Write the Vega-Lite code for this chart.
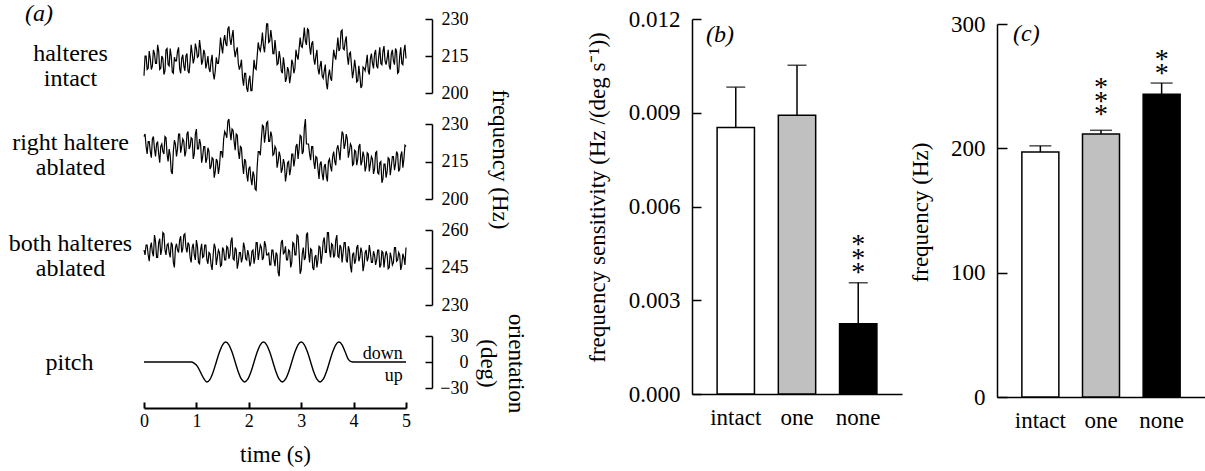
{
  "$schema": "https://vega.github.io/schema/vega-lite/v6.json",
  "autosize": {"type": "pad"},
  "padding": {"left": 8, "top": 2, "right": 0, "bottom": 2},
  "background": "white",
  "config": {
    "font": "Liberation Serif",
    "view": {"stroke": null},
    "axis": {"domainColor": "black", "tickColor": "black", "labelColor": "black", "titleColor": "black", "titleFontWeight": "normal", "grid": false},
    "title": {"color": "black"},
    "text": {"color": "black"}
  },
  "datasets": {
    "traces": [
      {"t":0.00,"intact":207,"right":225,"both":252},{"t":0.02,"intact":215,"right":226,"both":250},
      {"t":0.04,"intact":215,"right":221,"both":254},{"t":0.06,"intact":209.5,"right":218,"both":254},
      {"t":0.08,"intact":210,"right":223,"both":250},{"t":0.10,"intact":217,"right":223,"both":247.5},
      {"t":0.12,"intact":214,"right":219,"both":253},{"t":0.14,"intact":209.5,"right":216.5,"both":255},
      {"t":0.16,"intact":211,"right":224,"both":251},{"t":0.18,"intact":217.5,"right":225,"both":249.5},
      {"t":0.20,"intact":216,"right":220,"both":258},{"t":0.22,"intact":212,"right":217,"both":255.5},
      {"t":0.24,"intact":212,"right":222,"both":249},{"t":0.26,"intact":219.5,"right":223,"both":249},
      {"t":0.28,"intact":217,"right":218,"both":255},{"t":0.30,"intact":209.5,"right":214.5,"both":256.5},
      {"t":0.32,"intact":210,"right":221,"both":250},{"t":0.34,"intact":215,"right":222,"both":252.5},
      {"t":0.36,"intact":214,"right":219,"both":259},{"t":0.38,"intact":207.5,"right":218,"both":258.5},
      {"t":0.40,"intact":209,"right":225,"both":252},{"t":0.42,"intact":217.5,"right":224.5,"both":250},
      {"t":0.44,"intact":218,"right":218,"both":254},{"t":0.46,"intact":211.5,"right":215,"both":254.5},
      {"t":0.48,"intact":211,"right":220,"both":251},{"t":0.50,"intact":218,"right":217.5,"both":249},
      {"t":0.52,"intact":215,"right":211,"both":255},{"t":0.54,"intact":208.5,"right":210,"both":254},
      {"t":0.56,"intact":208,"right":219,"both":247},{"t":0.58,"intact":214.5,"right":223.5,"both":245},
      {"t":0.60,"intact":213,"right":222,"both":253},{"t":0.62,"intact":213,"right":217,"both":254.5},
      {"t":0.64,"intact":217,"right":220,"both":252},{"t":0.66,"intact":218.5,"right":226,"both":251},
      {"t":0.68,"intact":210,"right":226,"both":256},{"t":0.70,"intact":208,"right":218.5,"both":257.5},
      {"t":0.72,"intact":214,"right":221,"both":251},{"t":0.74,"intact":215.5,"right":224,"both":252.5},
      {"t":0.76,"intact":211,"right":223,"both":258},{"t":0.78,"intact":209,"right":217,"both":258.5},
      {"t":0.80,"intact":215,"right":219,"both":253},{"t":0.82,"intact":216,"right":226,"both":251},
      {"t":0.84,"intact":209,"right":227,"both":255},{"t":0.86,"intact":208,"right":220,"both":254},
      {"t":0.88,"intact":213,"right":221,"both":249},{"t":0.90,"intact":219.5,"right":224.5,"both":247},
      {"t":0.92,"intact":216,"right":224,"both":253},{"t":0.94,"intact":212,"right":216,"both":254.5},
      {"t":0.96,"intact":214,"right":218,"both":250},{"t":0.98,"intact":220,"right":226,"both":248},
      {"t":1.00,"intact":218,"right":228,"both":256},{"t":1.02,"intact":214.5,"right":220,"both":253.5},
      {"t":1.04,"intact":215,"right":220,"both":247},{"t":1.06,"intact":221.5,"right":224,"both":246.5},
      {"t":1.08,"intact":218,"right":222,"both":252},{"t":1.10,"intact":211.5,"right":214.5,"both":254.5},
      {"t":1.12,"intact":213,"right":217,"both":249},{"t":1.14,"intact":217.5,"right":221,"both":249.5},
      {"t":1.16,"intact":216,"right":221,"both":254},{"t":1.18,"intact":210,"right":214.5,"both":254},
      {"t":1.20,"intact":212,"right":216,"both":248},{"t":1.22,"intact":215,"right":220.5,"both":246.5},
      {"t":1.24,"intact":210,"right":219,"both":251},{"t":1.26,"intact":208.5,"right":212,"both":250.5},
      {"t":1.28,"intact":213,"right":213,"both":246},{"t":1.30,"intact":215.5,"right":216.5,"both":244},
      {"t":1.32,"intact":208,"right":216,"both":250},{"t":1.34,"intact":205.5,"right":208.5,"both":254.5},
      {"t":1.36,"intact":209,"right":211,"both":253},{"t":1.38,"intact":214.5,"right":216,"both":246},
      {"t":1.40,"intact":212,"right":215,"both":249},{"t":1.42,"intact":212,"right":210,"both":252},
      {"t":1.44,"intact":216,"right":213,"both":251},{"t":1.46,"intact":222.5,"right":219,"both":245.5},
      {"t":1.48,"intact":219,"right":219,"both":246},{"t":1.50,"intact":216,"right":216.5,"both":253},
      {"t":1.52,"intact":221,"right":224,"both":252},{"t":1.54,"intact":223.5,"right":227,"both":248},
      {"t":1.56,"intact":220,"right":226,"both":248},{"t":1.58,"intact":219,"right":224.5,"both":253.5},
      {"t":1.60,"intact":226,"right":231,"both":253},{"t":1.62,"intact":227,"right":232,"both":248.5},
      {"t":1.64,"intact":222,"right":227,"both":250},{"t":1.66,"intact":219.5,"right":223.5,"both":255.5},
      {"t":1.68,"intact":223,"right":228,"both":257},{"t":1.70,"intact":225.5,"right":227.5,"both":248.5},
      {"t":1.72,"intact":218,"right":223,"both":248},{"t":1.74,"intact":214.5,"right":219.5,"both":253},
      {"t":1.76,"intact":217,"right":226,"both":252},{"t":1.78,"intact":218.5,"right":225.5,"both":244.5},
      {"t":1.80,"intact":212,"right":219,"both":247},{"t":1.82,"intact":209.5,"right":216,"both":251},
      {"t":1.84,"intact":211,"right":221,"both":251},{"t":1.86,"intact":213.5,"right":220.5,"both":247},
      {"t":1.88,"intact":206,"right":214,"both":249},{"t":1.90,"intact":203,"right":210,"both":255},
      {"t":1.92,"intact":208,"right":216,"both":253},{"t":1.94,"intact":208,"right":215,"both":248.5},
      {"t":1.96,"intact":202,"right":210,"both":248},{"t":1.98,"intact":200.5,"right":207,"both":252},
      {"t":2.00,"intact":205,"right":212,"both":250},{"t":2.02,"intact":207,"right":213,"both":245.5},
      {"t":2.04,"intact":201,"right":208,"both":247},{"t":2.06,"intact":201,"right":205.5,"both":251.5},
      {"t":2.08,"intact":207,"right":211,"both":252},{"t":2.10,"intact":213.5,"right":209.5,"both":246.5},
      {"t":2.12,"intact":210,"right":204,"both":249},{"t":2.14,"intact":209.5,"right":203.5,"both":255},
      {"t":2.16,"intact":215,"right":213,"both":255},{"t":2.18,"intact":220.5,"right":219,"both":248},
      {"t":2.20,"intact":218,"right":219,"both":251},{"t":2.22,"intact":217,"right":217.5,"both":254},
      {"t":2.24,"intact":220,"right":224,"both":253},{"t":2.26,"intact":224.5,"right":229.5,"both":248},
      {"t":2.28,"intact":219,"right":229,"both":249},{"t":2.30,"intact":216.5,"right":222.5,"both":255.5},
      {"t":2.32,"intact":222,"right":226,"both":254},{"t":2.34,"intact":228,"right":230.5,"both":250},
      {"t":2.36,"intact":228,"right":231,"both":250},{"t":2.38,"intact":220.5,"right":223,"both":251},
      {"t":2.40,"intact":221,"right":223,"both":246},{"t":2.42,"intact":225.5,"right":227,"both":246},
      {"t":2.44,"intact":222,"right":225,"both":252},{"t":2.46,"intact":216,"right":217.5,"both":252},
      {"t":2.48,"intact":216,"right":218,"both":248},{"t":2.50,"intact":221.5,"right":221,"both":245.5},
      {"t":2.52,"intact":217,"right":220,"both":251},{"t":2.54,"intact":211.5,"right":212.5,"both":250},
      {"t":2.56,"intact":212,"right":215,"both":243},{"t":2.58,"intact":217,"right":219,"both":241.5},
      {"t":2.60,"intact":214,"right":217,"both":250},{"t":2.62,"intact":209,"right":210.5,"both":255},
      {"t":2.64,"intact":208,"right":212,"both":256},{"t":2.66,"intact":214.5,"right":216,"both":250.5},
      {"t":2.68,"intact":211,"right":214,"both":251},{"t":2.70,"intact":204.5,"right":207,"both":253.5},
      {"t":2.72,"intact":206,"right":210,"both":248},{"t":2.74,"intact":210.5,"right":214.5,"both":248},
      {"t":2.76,"intact":209,"right":215,"both":252},{"t":2.78,"intact":204,"right":209.5,"both":251.5},
      {"t":2.80,"intact":207,"right":212,"both":245},{"t":2.82,"intact":213.5,"right":218,"both":247},
      {"t":2.84,"intact":212,"right":218,"both":255},{"t":2.86,"intact":208,"right":213,"both":254.5},
      {"t":2.88,"intact":210,"right":216,"both":250},{"t":2.90,"intact":217.5,"right":221,"both":250},
      {"t":2.92,"intact":215,"right":222,"both":258},{"t":2.94,"intact":213.5,"right":216,"both":257.5},
      {"t":2.96,"intact":218,"right":220,"both":251},{"t":2.98,"intact":222.5,"right":225.5,"both":242.5},
      {"t":3.00,"intact":219,"right":225,"both":244},{"t":3.02,"intact":218.5,"right":218,"both":250.5},
      {"t":3.04,"intact":222,"right":219,"both":253},{"t":3.06,"intact":226.5,"right":228.5,"both":248},
      {"t":3.08,"intact":221,"right":232,"both":249},{"t":3.10,"intact":219.5,"right":222,"both":258},
      {"t":3.12,"intact":226,"right":222,"both":259},{"t":3.14,"intact":225.5,"right":222,"both":251},
      {"t":3.16,"intact":219,"right":218,"both":247},{"t":3.18,"intact":215.5,"right":215.5,"both":252.5},
      {"t":3.20,"intact":220,"right":221,"both":252},{"t":3.22,"intact":221,"right":221,"both":245},
      {"t":3.24,"intact":214,"right":215,"both":244},{"t":3.26,"intact":211.5,"right":212,"both":249},
      {"t":3.28,"intact":215,"right":217,"both":250},{"t":3.30,"intact":217.5,"right":216.5,"both":245},
      {"t":3.32,"intact":210,"right":212,"both":248},{"t":3.34,"intact":207.5,"right":208,"both":253.5},
      {"t":3.36,"intact":211,"right":214,"both":253},{"t":3.38,"intact":213,"right":215,"both":246.5},
      {"t":3.40,"intact":207,"right":210,"both":250},{"t":3.42,"intact":206,"right":207.5,"both":255.5},
      {"t":3.44,"intact":209,"right":213,"both":257},{"t":3.46,"intact":211.5,"right":214,"both":251},
      {"t":3.48,"intact":204,"right":209,"both":251},{"t":3.50,"intact":201.5,"right":207,"both":259},
      {"t":3.52,"intact":207,"right":215,"both":259},{"t":3.54,"intact":209.5,"right":216,"both":252},
      {"t":3.56,"intact":206,"right":213,"both":249},{"t":3.58,"intact":205,"right":211,"both":254.5},
      {"t":3.60,"intact":212,"right":217,"both":254},{"t":3.62,"intact":217.5,"right":219,"both":249},
      {"t":3.64,"intact":215,"right":215,"both":250},{"t":3.66,"intact":213.5,"right":213.5,"both":256},
      {"t":3.68,"intact":218,"right":220,"both":258},{"t":3.70,"intact":222.5,"right":221.5,"both":249.5},
      {"t":3.72,"intact":217,"right":219,"both":249},{"t":3.74,"intact":218,"right":215.5,"both":254},
      {"t":3.76,"intact":225,"right":222,"both":253},{"t":3.78,"intact":225.5,"right":227,"both":247},
      {"t":3.80,"intact":218,"right":226,"both":251},{"t":3.82,"intact":217.5,"right":220,"both":255},
      {"t":3.84,"intact":221,"right":222,"both":255},{"t":3.86,"intact":223,"right":226,"both":248},
      {"t":3.88,"intact":215,"right":224,"both":247},{"t":3.90,"intact":211.5,"right":216.5,"both":253.5},
      {"t":3.92,"intact":216,"right":219,"both":252},{"t":3.94,"intact":216.5,"right":222,"both":245.5},
      {"t":3.96,"intact":211,"right":221,"both":243},{"t":3.98,"intact":206,"right":213.5,"both":250},
      {"t":4.00,"intact":209,"right":214,"both":251},{"t":4.02,"intact":213.5,"right":219.5,"both":246.5},
      {"t":4.04,"intact":210,"right":219,"both":248},{"t":4.06,"intact":204.5,"right":213.5,"both":253},
      {"t":4.08,"intact":205,"right":216,"both":254},{"t":4.10,"intact":211,"right":221,"both":247.5},
      {"t":4.12,"intact":207,"right":222,"both":249},{"t":4.14,"intact":202,"right":213.5,"both":253},
      {"t":4.16,"intact":203,"right":215,"both":251},{"t":4.18,"intact":210.5,"right":219,"both":243.5},
      {"t":4.20,"intact":210,"right":217,"both":246},{"t":4.22,"intact":209,"right":211,"both":251},
      {"t":4.24,"intact":212,"right":213,"both":252},{"t":4.26,"intact":215.5,"right":218.5,"both":247.5},
      {"t":4.28,"intact":209,"right":218,"both":249},{"t":4.30,"intact":207.5,"right":211,"both":254},
      {"t":4.32,"intact":214,"right":214,"both":251},{"t":4.34,"intact":216,"right":217,"both":247},
      {"t":4.36,"intact":212,"right":216,"both":247},{"t":4.38,"intact":210,"right":210,"both":251.5},
      {"t":4.40,"intact":216,"right":212,"both":250},{"t":4.42,"intact":217.5,"right":218.5,"both":246},
      {"t":4.44,"intact":211,"right":219,"both":248},{"t":4.46,"intact":210,"right":210.5,"both":252},
      {"t":4.48,"intact":215,"right":210,"both":252},{"t":4.50,"intact":218.5,"right":214.5,"both":245},
      {"t":4.52,"intact":212,"right":215,"both":246},{"t":4.54,"intact":211.5,"right":206.5,"both":251.5},
      {"t":4.56,"intact":217,"right":208,"both":251},{"t":4.58,"intact":219,"right":214,"both":245},
      {"t":4.60,"intact":213,"right":214,"both":249},{"t":4.62,"intact":211.5,"right":208.5,"both":251.5},
      {"t":4.64,"intact":214,"right":211,"both":250},{"t":4.66,"intact":217.5,"right":216.5,"both":244.5},
      {"t":4.68,"intact":211,"right":216,"both":245},{"t":4.70,"intact":209.5,"right":209.5,"both":251},
      {"t":4.72,"intact":216,"right":213,"both":249},{"t":4.74,"intact":217.5,"right":217,"both":246},
      {"t":4.76,"intact":213,"right":217,"both":247},{"t":4.78,"intact":211.5,"right":211.5,"both":253},
      {"t":4.80,"intact":218,"right":214,"both":253},{"t":4.82,"intact":217,"right":219,"both":247.5},
      {"t":4.84,"intact":208,"right":218,"both":248},{"t":4.86,"intact":208.5,"right":211,"both":251},
      {"t":4.88,"intact":215,"right":212,"both":250},{"t":4.90,"intact":218.5,"right":217.5,"both":244},
      {"t":4.92,"intact":212,"right":219,"both":246},{"t":4.94,"intact":211.5,"right":212.5,"both":250.5},
      {"t":4.96,"intact":217,"right":216,"both":249},{"t":4.98,"intact":219.5,"right":221.5,"both":246},
      {"t":5.00,"intact":214,"right":221,"both":253}
    ],
    "pitch": [
      {"t":0,"v":0},{"t":0.9,"v":0},{"t":0.96,"v":-1.5},{"t":1.02,"v":-5},{"t":1.08,"v":-12},{"t":1.14,"v":-19},
      {"t":1.2,"v":-23},{"t":1.26,"v":-20},{"t":1.32,"v":-11.5},{"t":1.38,"v":0},{"t":1.44,"v":11.5},{"t":1.5,"v":19.9},
      {"t":1.56,"v":23},{"t":1.62,"v":19.9},{"t":1.68,"v":11.5},{"t":1.74,"v":0},{"t":1.8,"v":-11.5},{"t":1.86,"v":-19.9},
      {"t":1.92,"v":-23},{"t":1.98,"v":-19.9},{"t":2.04,"v":-11.5},{"t":2.1,"v":0},{"t":2.16,"v":11.5},{"t":2.22,"v":19.9},
      {"t":2.28,"v":23},{"t":2.34,"v":19.9},{"t":2.4,"v":11.5},{"t":2.46,"v":0},{"t":2.52,"v":-11.5},{"t":2.58,"v":-19.9},
      {"t":2.64,"v":-23},{"t":2.7,"v":-19.9},{"t":2.76,"v":-11.5},{"t":2.82,"v":0},{"t":2.88,"v":11.5},{"t":2.94,"v":19.9},
      {"t":3.0,"v":23},{"t":3.06,"v":19.9},{"t":3.12,"v":11.5},{"t":3.18,"v":0},{"t":3.24,"v":-11.5},{"t":3.3,"v":-19.9},
      {"t":3.36,"v":-23},{"t":3.42,"v":-19.9},{"t":3.48,"v":-11.5},{"t":3.54,"v":0},{"t":3.6,"v":11.5},{"t":3.66,"v":19.9},
      {"t":3.72,"v":23},{"t":3.78,"v":19.9},{"t":3.84,"v":11.5},{"t":3.9,"v":3},{"t":3.96,"v":0.3},{"t":4.02,"v":0},{"t":5,"v":0}
    ],
    "pitchlabels": [
      {"t":4.94,"v":3,"label":"down"},
      {"t":4.94,"v":-22,"label":"up"}
    ],
    "bars": [
      {"group":"intact","sens":0.00853,"sensHi":0.00982,"sensStar":"","freq":197,"freqHi":202,"freqStar":""},
      {"group":"one","sens":0.00892,"sensHi":0.01052,"sensStar":"","freq":211.5,"freqHi":214.5,"freqStar":"*\n*\n*"},
      {"group":"none","sens":0.00225,"sensHi":0.00356,"sensStar":"*\n*\n*","freq":243.5,"freqHi":252.5,"freqStar":"*\n*"}
    ]
  },
  "bounds": "flush",
  "spacing": 548,
  "hconcat": [
    {
      "bounds": "flush",
      "spacing": 31,
      "vconcat": [
        {
          "width": 262, "height": 74,
          "data": {"name": "traces"},
          "title": {"text": "(a)", "anchor": "start", "frame": "group", "dx": -119, "offset": -35, "baseline": "alphabetic", "fontSize": 24, "fontStyle": "italic", "fontWeight": "normal"},
          "layer": [
            {"mark": {"type": "line", "color": "black", "strokeWidth": 1.2},
             "encoding": {
               "x": {"field": "t", "type": "quantitative", "scale": {"domain": [0, 5], "nice": false, "zero": false}, "axis": null},
               "y": {"field": "intact", "type": "quantitative", "scale": {"domain": [200, 230], "nice": false, "zero": false},
                     "axis": {"orient": "right", "offset": 26, "values": [200, 215, 230], "title": null, "tickSize": -7, "tickWidth": 1.5, "domainWidth": 1.5, "labelAlign": "right", "labelPadding": 43, "labelFontSize": 18}}}},
            {"mark": {"type": "line", "strokeOpacity": 0},
             "encoding": {
               "x": {"field": "t", "type": "quantitative", "axis": null},
               "y": {"field": "intact", "type": "quantitative",
                     "axis": {"orient": "left", "title": ["halteres", "intact"], "domain": false, "ticks": false, "labels": false, "titleAngle": 0, "titleAlign": "center", "titleBaseline": "middle", "titleX": -74, "titleY": 34, "titleFontSize": 24, "titleLineHeight": 25}}}}
          ],
          "resolve": {"axis": {"y": "independent"}}
        },
        {
          "width": 262, "height": 75,
          "data": {"name": "traces"},
          "layer": [
            {"mark": {"type": "line", "color": "black", "strokeWidth": 1.2},
             "encoding": {
               "x": {"field": "t", "type": "quantitative", "scale": {"domain": [0, 5], "nice": false, "zero": false}, "axis": null},
               "y": {"field": "right", "type": "quantitative", "scale": {"domain": [200, 230], "nice": false, "zero": false},
                     "axis": {"orient": "right", "offset": 26, "values": [200, 215, 230], "title": "frequency (Hz)", "titleAngle": 90, "titleAlign": "center", "titleBaseline": "alphabetic", "titleX": 60, "titleY": 35, "titleFontSize": 23, "tickSize": -7, "tickWidth": 1.5, "domainWidth": 1.5, "labelAlign": "right", "labelPadding": 43, "labelFontSize": 18}}}},
            {"mark": {"type": "line", "strokeOpacity": 0},
             "encoding": {
               "x": {"field": "t", "type": "quantitative", "axis": null},
               "y": {"field": "right", "type": "quantitative",
                     "axis": {"orient": "left", "title": ["right haltere", "ablated"], "domain": false, "ticks": false, "labels": false, "titleAngle": 0, "titleAlign": "center", "titleBaseline": "middle", "titleX": -74, "titleY": 18, "titleFontSize": 24, "titleLineHeight": 25}}}}
          ],
          "resolve": {"axis": {"y": "independent"}}
        },
        {
          "width": 262, "height": 75,
          "data": {"name": "traces"},
          "layer": [
            {"mark": {"type": "line", "color": "black", "strokeWidth": 1.2},
             "encoding": {
               "x": {"field": "t", "type": "quantitative", "scale": {"domain": [0, 5], "nice": false, "zero": false}, "axis": null},
               "y": {"field": "both", "type": "quantitative", "scale": {"domain": [230, 260], "nice": false, "zero": false},
                     "axis": {"orient": "right", "offset": 26, "values": [230, 245, 260], "title": null, "tickSize": -7, "tickWidth": 1.5, "domainWidth": 1.5, "labelAlign": "right", "labelPadding": 43, "labelFontSize": 18}}}},
            {"mark": {"type": "line", "strokeOpacity": 0},
             "encoding": {
               "x": {"field": "t", "type": "quantitative", "axis": null},
               "y": {"field": "both", "type": "quantitative",
                     "axis": {"orient": "left", "title": ["both halteres", "ablated"], "domain": false, "ticks": false, "labels": false, "titleAngle": 0, "titleAlign": "center", "titleBaseline": "middle", "titleX": -74, "titleY": 13, "titleFontSize": 24, "titleLineHeight": 25}}}}
          ],
          "resolve": {"axis": {"y": "independent"}}
        },
        {
          "width": 262, "height": 52,
          "layer": [
            {"data": {"name": "pitch"},
             "mark": {"type": "line", "color": "black", "strokeWidth": 1.4, "interpolate": "monotone"},
             "encoding": {
               "x": {"field": "t", "type": "quantitative", "scale": {"domain": [0, 5], "nice": false, "zero": false},
                     "axis": {"values": [0, 1, 2, 3, 4, 5], "format": "d", "offset": 20, "tickSize": -6, "tickWidth": 2, "domainWidth": 1.8, "labelFontSize": 18, "labelPadding": 10, "labelFlush": false, "title": "time (s)", "titleFontSize": 23, "titlePadding": 13}},
               "y": {"field": "v", "type": "quantitative", "scale": {"domain": [-30, 30], "nice": false, "zero": false},
                     "axis": {"orient": "right", "offset": 26, "values": [-30, 0, 30], "title": ["orientation", "(deg)"], "titleAngle": 90, "titleAlign": "center", "titleBaseline": "alphabetic", "titleX": 76, "titleY": 27, "titleFontSize": 23, "titleLineHeight": 28, "tickSize": -7, "tickWidth": 1.5, "domainWidth": 1.5, "labelAlign": "right", "labelPadding": 43, "labelFontSize": 18}}}},
            {"data": {"name": "pitch"},
             "mark": {"type": "line", "strokeOpacity": 0},
             "encoding": {
               "x": {"field": "t", "type": "quantitative"},
               "y": {"field": "v", "type": "quantitative",
                     "axis": {"orient": "left", "title": "pitch", "domain": false, "ticks": false, "labels": false, "titleAngle": 0, "titleAlign": "center", "titleBaseline": "middle", "titleX": -75, "titleY": 26, "titleFontSize": 24}}}},
            {"data": {"name": "pitchlabels"},
             "mark": {"type": "text", "align": "right", "baseline": "alphabetic", "fontSize": 18},
             "encoding": {
               "x": {"field": "t", "type": "quantitative"},
               "y": {"field": "v", "type": "quantitative", "axis": null},
               "text": {"field": "label"}}}
          ],
          "resolve": {"axis": {"y": "independent"}}
        }
      ]
    },
    {
      "bounds": "flush",
      "spacing": 95,
      "hconcat": [
        {
          "width": 210, "height": 375,
          "data": {"name": "bars"},
          "title": {"text": "(b)", "anchor": "start", "frame": "group", "dx": 14, "offset": -58, "baseline": "alphabetic", "fontSize": 24, "fontStyle": "italic", "fontWeight": "normal"},
          "encoding": {
            "x": {"field": "group", "type": "nominal", "sort": ["intact", "one", "none"], "scale": {"paddingInner": 0.39, "paddingOuter": 0.41},
                  "axis": {"title": null, "ticks": false, "tickSize": 0, "labelAngle": 0, "labelFontSize": 23, "labelPadding": 12, "domainWidth": 1.5}}
          },
          "layer": [
            {"mark": {"type": "bar", "stroke": "black", "strokeWidth": 1.5},
             "encoding": {
               "y": {"field": "sens", "type": "quantitative", "title": "frequency sensitivity (Hz /(deg s⁻¹))", "scale": {"domain": [0, 0.012], "nice": false},
                     "axis": {"values": [0, 0.003, 0.006, 0.009, 0.012], "format": ".3f", "tickSize": -9, "tickWidth": 1.5, "domainWidth": 1.5, "labelFontSize": 23, "labelPadding": 21, "titleFontSize": 23, "titlePadding": 19, "titleY": 178}},
               "fill": {"field": "group", "type": "nominal", "scale": {"domain": ["intact", "one", "none"], "range": ["white", "#c0c0c0", "black"]}, "legend": null}}},
            {"mark": {"type": "rule", "strokeWidth": 1.5, "color": "black"},
             "encoding": {
               "y": {"field": "sens", "type": "quantitative", "title": "frequency sensitivity (Hz /(deg s⁻¹))"},
               "y2": {"field": "sensHi"}}},
            {"mark": {"type": "tick", "thickness": 1.5, "size": 19, "color": "black"},
             "encoding": {
               "y": {"field": "sensHi", "type": "quantitative", "title": "frequency sensitivity (Hz /(deg s⁻¹))"}}},
            {"mark": {"type": "text", "fontSize": 28, "lineHeight": 14, "lineBreak": "\n", "baseline": "bottom", "dy": -24},
             "encoding": {
               "y": {"field": "sensHi", "type": "quantitative", "title": "frequency sensitivity (Hz /(deg s⁻¹))"},
               "text": {"field": "sensStar"}}}
          ]
        },
        {
          "width": 208, "height": 378,
          "data": {"name": "bars"},
          "title": {"text": "(c)", "anchor": "start", "frame": "group", "dx": 16, "offset": -52, "baseline": "alphabetic", "fontSize": 24, "fontStyle": "italic", "fontWeight": "normal"},
          "encoding": {
            "x": {"field": "group", "type": "nominal", "sort": ["intact", "one", "none"], "scale": {"paddingInner": 0.39, "paddingOuter": 0.41},
                  "axis": {"title": null, "ticks": false, "tickSize": 0, "labelAngle": 0, "labelFontSize": 23, "labelPadding": 12, "domainWidth": 1.5}}
          },
          "layer": [
            {"mark": {"type": "bar", "stroke": "black", "strokeWidth": 1.5},
             "encoding": {
               "y": {"field": "freq", "type": "quantitative", "title": "frequency (Hz)", "scale": {"domain": [0, 300], "nice": false, "range": [378, 5]},
                     "axis": {"values": [0, 100, 200, 300], "tickSize": -10, "tickWidth": 1.5, "domainWidth": 1.5, "labelFontSize": 23, "labelPadding": 22, "titleFontSize": 23, "titlePadding": 18, "titleY": 193}},
               "fill": {"field": "group", "type": "nominal", "scale": {"domain": ["intact", "one", "none"], "range": ["white", "#c0c0c0", "black"]}, "legend": null}}},
            {"mark": {"type": "rule", "strokeWidth": 1.5, "color": "black"},
             "encoding": {
               "y": {"field": "freq", "type": "quantitative", "title": "frequency (Hz)"},
               "y2": {"field": "freqHi"}}},
            {"mark": {"type": "tick", "thickness": 1.5, "size": 22, "color": "black"},
             "encoding": {
               "y": {"field": "freqHi", "type": "quantitative", "title": "frequency (Hz)"}}},
            {"transform": [{"filter": "datum.group === 'one'"}],
             "mark": {"type": "text", "fontSize": 28, "lineHeight": 13.5, "lineBreak": "\n", "baseline": "bottom", "dy": -28},
             "encoding": {
               "y": {"field": "freqHi", "type": "quantitative", "title": "frequency (Hz)"},
               "text": {"field": "freqStar"}}},
            {"transform": [{"filter": "datum.group === 'none'"}],
             "mark": {"type": "text", "fontSize": 28, "lineHeight": 13.5, "lineBreak": "\n", "baseline": "bottom", "dy": -9},
             "encoding": {
               "y": {"field": "freqHi", "type": "quantitative", "title": "frequency (Hz)"},
               "text": {"field": "freqStar"}}}
          ]
        }
      ]
    }
  ]
}
